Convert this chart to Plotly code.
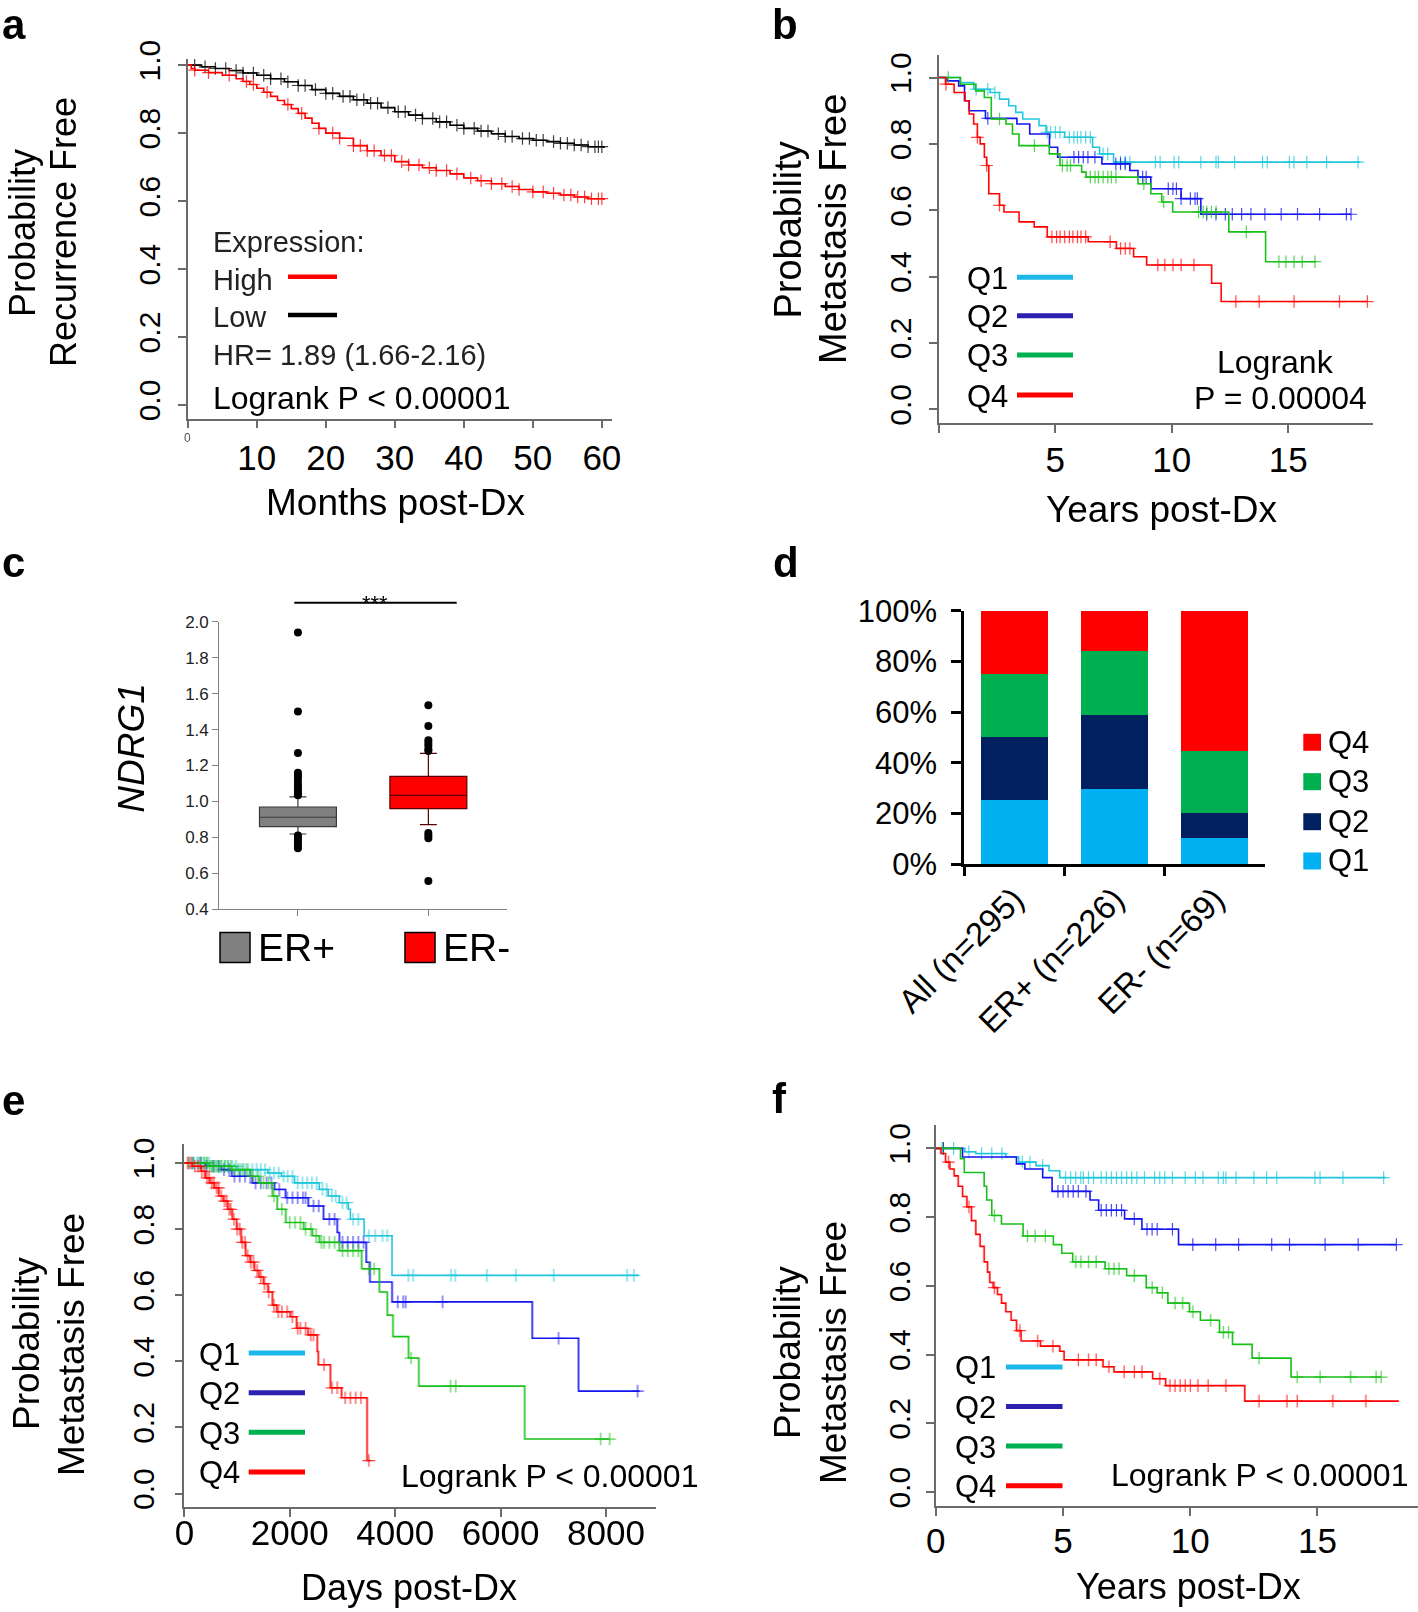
import numpy as np
import plotly.graph_objects as go

FONT = "Liberation Sans, Arial, sans-serif"
W, H = 1418, 1612

# ---------------- Panel a data (months) ----------------
a_low_t = [0, 2, 4, 6, 8, 10, 12, 14, 16, 18, 20, 22, 24, 26, 28, 30, 32, 34, 36, 38, 40,
           42, 44, 46, 48, 50, 52, 54, 56, 58, 60.3]
a_low_s = [1.0, 0.995, 0.99, 0.984, 0.977, 0.97, 0.96, 0.951, 0.94, 0.928, 0.917, 0.908, 0.898,
           0.888, 0.875, 0.863, 0.853, 0.843, 0.833, 0.823, 0.814, 0.806, 0.798, 0.79, 0.784,
           0.779, 0.775, 0.77, 0.765, 0.76, 0.756]
a_low_cens = [1, 2.5, 4, 5.5, 7, 8, 9.5, 11, 12, 13.5, 14.5, 16, 17, 18.5, 20, 21, 22.5, 23.5,
              24.5, 25.5, 26.5, 27.5, 29, 30.5, 31.5, 33, 34, 35.5, 36.5, 37.5, 39, 40, 41.5,
              42.5, 43.5, 45, 46, 47, 48.5, 49.5, 50.5, 51.5, 53, 54, 55, 56, 57, 58, 59, 59.5, 60]
a_high_t = [0, 0.5, 1, 3, 5, 7, 8, 9, 10, 11, 12, 13, 14, 15, 16, 17, 18, 19, 20, 22, 24, 26, 28,
            30, 32, 34, 36, 38, 40, 42, 44, 46, 48, 50, 52, 54, 56, 58, 60.3]
a_high_s = [1.0, 0.99, 0.985, 0.978, 0.97, 0.96, 0.952, 0.943, 0.932, 0.92, 0.908, 0.896, 0.884,
            0.872, 0.858, 0.844, 0.829, 0.814, 0.80, 0.785, 0.763, 0.748, 0.734, 0.716, 0.706,
            0.698, 0.69, 0.68, 0.668, 0.66, 0.651, 0.643, 0.634, 0.627, 0.623, 0.618, 0.612,
            0.607, 0.603]
a_high_cens = [1, 3, 6, 8.5, 9.5, 11.5, 14.5, 16.5, 19, 21, 22, 24, 25, 26, 27, 28.5, 29.5, 31,
               32, 33.5, 35, 36, 37.5, 39, 41, 42.5, 44, 45.5, 47, 48, 50, 51.5, 53, 54.5, 55.5,
               56.5, 57.5, 58.5, 59.5, 60]

# ---------------- Panel b data (years) ----------------
b_q1_t = [0, 0.9, 1.5, 2.2, 2.6, 3.0, 3.3, 3.6, 4.3, 4.6, 5.4, 6.6, 6.9, 7.5, 18.1]
b_q1_s = [1.0, 0.985, 0.965, 0.955, 0.935, 0.915, 0.895, 0.875, 0.855, 0.835, 0.82, 0.79, 0.77, 0.745, 0.745]
b_q1_c = [1.6, 2.1, 2.4, 4.65, 4.8, 5.0, 5.2, 5.6, 5.8, 5.95, 6.1, 6.3, 6.5, 7.05, 7.25, 7.8, 8.0,
          8.2, 9.3, 9.5, 10.1, 10.3, 11.25, 11.9, 12.0, 12.7, 13.9, 14.1, 15.05, 15.25, 15.8, 16.65, 18.0]
b_q2_t = [0, 0.35, 0.85, 1.1, 1.3, 2.0, 3.35, 3.9, 4.75, 5.1, 7.0, 8.2, 8.55, 9.1, 10.4, 11.25, 17.7]
b_q2_s = [1.0, 0.99, 0.975, 0.93, 0.90, 0.877, 0.86, 0.83, 0.79, 0.76, 0.74, 0.72, 0.70, 0.665, 0.635, 0.588, 0.588]
b_q2_c = [2.1, 5.8, 6.0, 6.2, 6.4, 6.7, 7.6, 7.8, 8.0, 8.75, 8.9, 9.85, 10.05, 10.2, 10.4, 10.8,
          11.0, 11.1, 11.5, 11.9, 12.3, 12.6, 13.0, 13.4, 14.0, 14.7, 15.4, 16.35, 17.5, 17.7]
b_q3_t = [0, 0.93, 1.58, 1.95, 2.25, 2.88, 3.16, 3.44, 4.74, 5.2, 6.13, 6.32, 8.55, 9.1, 9.57,
          10.04, 12.45, 14.03, 16.2]
b_q3_s = [1.0, 0.98, 0.96, 0.94, 0.875, 0.86, 0.83, 0.795, 0.77, 0.735, 0.715, 0.70, 0.68, 0.65,
          0.625, 0.595, 0.535, 0.445, 0.445]
b_q3_c = [0.4, 2.6, 4.1, 5.3, 5.5, 5.65, 6.5, 6.7, 6.85, 7.05, 7.25, 7.4, 7.6, 8.8, 9.65, 11.15,
          11.35, 11.5, 11.7, 11.9, 13.2, 14.6, 14.9, 15.25, 15.6, 16.15]
b_q4_t = [0, 0.28, 0.65, 1.12, 1.3, 1.49, 1.65, 1.77, 1.95, 2.05, 2.14, 2.6, 2.79, 3.44, 4.09,
          4.65, 6.41, 7.62, 8.36, 8.92, 11.71, 12.12, 18.4]
b_q4_s = [1.0, 0.98, 0.955, 0.93, 0.89, 0.86, 0.82, 0.80, 0.76, 0.735, 0.65, 0.615, 0.595, 0.565,
          0.55, 0.52, 0.505, 0.485, 0.46, 0.435, 0.38, 0.325, 0.325]
b_q4_c = [0.3, 1.65, 2.05, 2.6, 4.85, 5.05, 5.2, 5.4, 5.6, 5.75, 5.95, 6.1, 6.3, 7.35, 7.8, 8.0,
          8.2, 9.4, 9.7, 10.05, 10.4, 10.95, 12.75, 13.75, 15.25, 17.2, 18.4]

# ---------------- Panel c data ----------------
c_groups = [0, 1]
c_q1 = [0.86, 0.96]
c_median = [0.912, 1.034]
c_q3 = [0.969, 1.14]
c_lower = [0.819, 0.871]
c_upper = [1.025, 1.267]
c_out_erpos = [1.94, 1.50, 1.27, 1.16, 1.145, 1.13, 1.11, 1.09, 1.075, 1.06, 1.045, 1.035,
               0.81, 0.795, 0.78, 0.765, 0.75, 0.74]
c_out_erneg = [1.535, 1.42, 1.34, 1.325, 1.31, 1.29, 1.28, 0.825, 0.81, 0.795, 0.558]
c_yticks = [0.4, 0.6, 0.8, 1.0, 1.2, 1.4, 1.6, 1.8, 2.0]

# ---------------- Panel d data (%) ----------------
d_cats = ["All (n=295)", "ER+ (n=226)", "ER- (n=69)"]
d_q1 = [25.1, 29.6, 10.1]
d_q2 = [24.9, 29.2, 10.1]
d_q3 = [25.0, 25.2, 24.6]
d_q4 = [25.0, 16.0, 55.2]
d_yticks = [0, 20, 40, 60, 80, 100]

# ---------------- Panel e data (days) ----------------
e_q1_t = [0, 480, 990, 1585, 1840, 2090, 2560, 2730, 2940, 3110, 3150, 3410, 3940, 8620]
e_q1_s = [1.0, 0.99, 0.98, 0.97, 0.96, 0.94, 0.92, 0.90, 0.88, 0.86, 0.83, 0.78, 0.66, 0.66]
e_q1_c = [90, 170, 240, 310, 370, 420, 470, 530, 590, 640, 700, 770, 830, 910, 980, 1060, 1130,
          1210, 1290, 1370, 1450, 1530, 1620, 1700, 1790, 1880, 1960, 2050, 2150, 2240, 2330,
          2420, 2510, 2620, 2700, 2800, 2870, 3000, 3080, 3200, 3300, 3500, 3620, 3760, 3850,
          4250, 4340, 5060, 5140, 5740, 6290, 7010, 8400, 8530]
e_q2_t = [0, 400, 700, 900, 1290, 1710, 1920, 2350, 2640, 2900, 2940, 3450, 3520, 3940, 6600, 7480, 8640]
e_q2_s = [1.0, 0.99, 0.98, 0.96, 0.94, 0.92, 0.895, 0.87, 0.83, 0.79, 0.76, 0.70, 0.64, 0.58, 0.47, 0.31, 0.31]
e_q2_c = [150, 300, 420, 550, 650, 750, 850, 950, 1050, 1150, 1250, 1350, 1450, 1560, 1650, 1800,
          1950, 2050, 2150, 2250, 2300, 2450, 2550, 2750, 2850, 3000, 3100, 3200, 3300, 3400,
          4050, 4150, 4200, 4900, 7100, 8600]
e_q3_t = [0, 450, 900, 1250, 1415, 1670, 1760, 1924, 2263, 2430, 2560, 2940, 3365, 3700, 3850,
          3958, 4254, 4449, 6458, 8068]
e_q3_s = [1.0, 0.99, 0.98, 0.96, 0.94, 0.90, 0.86, 0.82, 0.80, 0.78, 0.76, 0.735, 0.68, 0.61,
          0.54, 0.475, 0.41, 0.325, 0.165, 0.165]
e_q3_c = [80, 180, 260, 330, 380, 430, 480, 520, 560, 610, 660, 700, 760, 820, 880, 950, 1020,
          1100, 1180, 1300, 1400, 1500, 1600, 1700, 1850, 2000, 2100, 2200, 2300, 2400, 2500,
          2600, 2650, 2750, 2850, 3000, 3100, 3200, 3300, 3500, 3600, 4300, 5050, 5150, 7900, 8070]
e_q4_t = [0, 150, 313, 398, 483, 568, 653, 737, 822, 907, 992, 1076, 1161, 1246, 1330, 1415,
          1500, 1585, 1670, 1754, 2008, 2130, 2347, 2520, 2540, 2771, 2983, 3466, 3534]
e_q4_s = [1.0, 0.99, 0.975, 0.955, 0.94, 0.925, 0.90, 0.885, 0.86, 0.83, 0.80, 0.76, 0.72, 0.70,
          0.675, 0.655, 0.635, 0.61, 0.57, 0.55, 0.535, 0.50, 0.48, 0.43, 0.39, 0.32, 0.29, 0.10, 0.10]
e_q4_c = [60, 120, 200, 260, 330, 380, 430, 470, 520, 560, 610, 650, 700, 760, 800, 850, 880,
          940, 1000, 1050, 1100, 1150, 1200, 1260, 1310, 1380, 1450, 1520, 1600, 1700, 1780,
          1850, 1950, 2050, 2150, 2200, 2300, 2400, 2450, 2650, 2800, 2900, 3050, 3150, 3250,
          3350, 3500]

# ---------------- Panel f data (years) ----------------
f_q1_t = [0, 1.14, 1.57, 2.75, 3.26, 3.94, 4.45, 4.87, 17.7]
f_q1_s = [1.0, 0.99, 0.985, 0.975, 0.96, 0.95, 0.935, 0.915, 0.915]
f_q1_c = [0.3, 0.7, 1.3, 1.8, 2.2, 2.6, 3.4, 3.7, 4.2, 5.1, 5.3, 5.5, 5.7, 5.8, 6.0, 6.2, 6.5,
          6.7, 6.9, 7.1, 7.3, 7.5, 7.7, 7.9, 8.2, 8.6, 8.8, 9.0, 9.3, 9.8, 10.2, 10.5, 11.1,
          11.3, 11.4, 11.8, 12.5, 13.0, 13.4, 14.9, 15.1, 16.0, 17.6]
f_q2_t = [0, 1.05, 3.17, 3.5, 4.2, 4.57, 6.06, 6.4, 7.42, 8.1, 9.54, 18.1]
f_q2_s = [1.0, 0.975, 0.955, 0.94, 0.915, 0.875, 0.85, 0.82, 0.795, 0.765, 0.72, 0.72]
f_q2_c = [0.3, 4.8, 5.0, 5.2, 5.4, 5.6, 5.9, 6.5, 6.7, 6.9, 7.1, 7.3, 7.8, 8.3, 8.5, 8.7, 9.3,
          10.1, 11.0, 11.9, 13.2, 13.9, 15.3, 16.6, 18.1]
f_q3_t = [0, 0.97, 1.12, 1.9, 2.0, 2.2, 2.58, 3.43, 4.62, 4.95, 5.38, 6.65, 7.5, 8.27, 8.7, 9.12,
          9.97, 10.4, 11.15, 11.66, 12.43, 13.96, 17.5]
f_q3_s = [1.0, 0.97, 0.93, 0.89, 0.85, 0.805, 0.78, 0.745, 0.72, 0.695, 0.67, 0.65, 0.63, 0.595,
          0.58, 0.55, 0.525, 0.50, 0.465, 0.43, 0.39, 0.335, 0.335]
f_q3_c = [0.25, 2.3, 3.6, 3.9, 4.3, 5.5, 5.7, 6.0, 6.3, 6.8, 7.0, 7.2, 7.8, 8.5, 8.9, 9.4, 9.7,
          10.1, 10.8, 11.3, 11.5, 12.7, 14.2, 15.1, 16.3, 17.3, 17.5]
f_q4_t = [0, 0.2, 0.38, 0.55, 0.72, 0.88, 1.05, 1.22, 1.4, 1.57, 1.74, 1.9, 2.03, 2.12, 2.25,
          2.42, 2.58, 2.75, 2.96, 3.17, 3.35, 4.11, 4.87, 5.04, 6.57, 7.0, 8.52, 9.03, 12.14, 18.2]
f_q4_s = [1.0, 0.985, 0.96, 0.94, 0.92, 0.89, 0.86, 0.83, 0.79, 0.75, 0.715, 0.67, 0.64, 0.61,
          0.595, 0.575, 0.55, 0.525, 0.50, 0.47, 0.44, 0.425, 0.41, 0.385, 0.365, 0.35, 0.33,
          0.31, 0.265, 0.265]
f_q4_c = [0.5, 1.3, 2.3, 3.3, 4.0, 4.6, 5.6, 6.0, 6.3, 6.8, 7.4, 7.8, 8.1, 8.8, 9.2, 9.4, 9.6,
          9.8, 10.0, 10.3, 10.7, 11.4, 12.7, 13.8, 14.2, 15.6, 16.9]

km_yticks = [0.0, 0.2, 0.4, 0.6, 0.8, 1.0]

# ---------------- colours ----------------
C_Q1, C_Q2, C_Q3, C_Q4 = "#22C8DC", "#1414F0", "#18C018", "#FF0000"
L_Q1, L_Q2, L_Q3, L_Q4 = "#1CB8E8", "#2C20B0", "#00B050", "#FF0000"
D_Q1, D_Q2, D_Q3, D_Q4 = "#00B0F0", "#002060", "#00B050", "#FF0000"
AX = "#6a6a6a"


def X(p):
    return p / W


def Y(p):
    return 1 - p / H


fig = go.Figure()


def km(t, s, cens, color, ax, width=1.6):
    xa, ya = ("x", "y") if ax == 1 else (f"x{ax}", f"y{ax}")
    fig.add_trace(go.Scatter(x=t, y=s, mode="lines", line=dict(shape="hv", color=color, width=width),
                             xaxis=xa, yaxis=ya, hoverinfo="skip"))
    tt = np.array(t)
    ss = np.array(s)
    idx = np.searchsorted(tt, np.array(cens), side="right") - 1
    fig.add_trace(go.Scatter(x=cens, y=ss[idx], mode="markers",
                             marker=dict(symbol="cross-thin-open", size=9, color=color,
                                         line=dict(color=color, width=1.2)),
                             xaxis=xa, yaxis=ya, hoverinfo="skip", opacity=0.75))


# panel a
km(a_low_t, a_low_s, a_low_cens, "#000000", 1)
km(a_high_t, a_high_s, a_high_cens, "#FF0000", 1)
# panel b
km(b_q1_t, b_q1_s, b_q1_c, C_Q1, 2)
km(b_q2_t, b_q2_s, b_q2_c, C_Q2, 2)
km(b_q3_t, b_q3_s, b_q3_c, C_Q3, 2)
km(b_q4_t, b_q4_s, b_q4_c, C_Q4, 2)

# panel c
fig.add_trace(go.Box(x=[c_groups[0]], q1=[c_q1[0]], median=[c_median[0]], q3=[c_q3[0]],
                     lowerfence=[c_lower[0]], upperfence=[c_upper[0]], width=0.59,
                     whiskerwidth=0.22, fillcolor="#808080", line=dict(color="#3a3a3a", width=1.2),
                     boxpoints=False, xaxis="x3", yaxis="y3", hoverinfo="skip"))
fig.add_trace(go.Box(x=[c_groups[1]], q1=[c_q1[1]], median=[c_median[1]], q3=[c_q3[1]],
                     lowerfence=[c_lower[1]], upperfence=[c_upper[1]], width=0.59,
                     whiskerwidth=0.22, fillcolor="#FF0000", line=dict(color="#5a0000", width=1.2),
                     boxpoints=False, xaxis="x3", yaxis="y3", hoverinfo="skip"))
fig.add_trace(go.Scatter(x=[c_groups[0]] * len(c_out_erpos), y=c_out_erpos, mode="markers",
                         marker=dict(color="black", size=8), xaxis="x3", yaxis="y3", hoverinfo="skip"))
fig.add_trace(go.Scatter(x=[c_groups[1]] * len(c_out_erneg), y=c_out_erneg, mode="markers",
                         marker=dict(color="black", size=8), xaxis="x3", yaxis="y3", hoverinfo="skip"))

# panel d
for vals, col in [(d_q1, D_Q1), (d_q2, D_Q2), (d_q3, D_Q3), (d_q4, D_Q4)]:
    fig.add_trace(go.Bar(x=d_cats, y=vals, marker=dict(color=col, line=dict(width=0)), width=0.67,
                         xaxis="x4", yaxis="y4", hoverinfo="skip"))

# panel e
km(e_q1_t, e_q1_s, e_q1_c, C_Q1, 5)
km(e_q2_t, e_q2_s, e_q2_c, C_Q2, 5)
km(e_q3_t, e_q3_s, e_q3_c, C_Q3, 5)
km(e_q4_t, e_q4_s, e_q4_c, C_Q4, 5)
# panel f
km(f_q1_t, f_q1_s, f_q1_c, C_Q1, 6)
km(f_q2_t, f_q2_s, f_q2_c, C_Q2, 6)
km(f_q3_t, f_q3_s, f_q3_c, C_Q3, 6)
km(f_q4_t, f_q4_s, f_q4_c, C_Q4, 6)

layout = dict(template="none", width=W, height=H, margin=dict(l=0, r=0, t=0, b=0, pad=0),
              paper_bgcolor="white", plot_bgcolor="white", showlegend=False, barmode="stack",
              boxmode="overlay", font=dict(family=FONT, color="black"))


def km_axes(n, xpx, ypx, xrange, yrange, xtickvals, xticktext, xstand, ystand):
    xs = "xaxis" if n == 1 else f"xaxis{n}"
    ys = "yaxis" if n == 1 else f"yaxis{n}"
    layout[xs] = dict(domain=[X(xpx[0]), X(xpx[1])], range=xrange, anchor="y" if n == 1 else f"y{n}",
                      showline=True, linecolor=AX, linewidth=1.5, ticks="outside", ticklen=8,
                      tickwidth=1.5, tickcolor=AX, tickvals=xtickvals, ticktext=xticktext,
                      tickfont=dict(size=35, family=FONT, color="black"), showgrid=False,
                      zeroline=False, fixedrange=True, automargin=False, ticklabelstandoff=xstand)
    layout[ys] = dict(domain=[Y(ypx[1]), Y(ypx[0])], range=yrange, anchor="x" if n == 1 else f"x{n}",
                      showline=True, linecolor=AX, linewidth=1.5, ticks="outside", ticklen=8,
                      tickwidth=1.5, tickcolor=AX, tickvals=km_yticks,
                      ticktext=[f"{v:.1f}" for v in km_yticks], tickangle=-90,
                      tickfont=dict(size=30, family=FONT, color="black"), showgrid=False,
                      zeroline=False, fixedrange=True, ticklabelstandoff=ystand, automargin=False)


km_axes(1, (187.8, 612.2), (59, 418.5), [0, 61.5], [-0.0397, 1.018],
        [0, 10, 20, 30, 40, 50, 60], ["", "10", "20", "30", "40", "50", "60"], 0, 6)
km_axes(2, (938.9, 1373.4), (55, 423.3), [0, 18.66], [-0.042, 1.068],
        [0, 5, 10, 15], ["", "5", "10", "15"], -3, 6)
km_axes(5, (184.4, 656.3), (1144, 1507.3), [0, 8955], [-0.0414, 1.0575],
        [0, 2000, 4000, 6000, 8000], ["0", "2000", "4000", "6000", "8000"], -14, 9)
km_axes(6, (935.8, 1418), (1125, 1506), [0, 18.95], [-0.040, 1.068],
        [0, 5, 10, 15], ["0", "5", "10", "15"], -5, 4)

# panel c axes
layout["xaxis3"] = dict(domain=[X(219.3), X(507)], range=[-0.603, 1.603], anchor="y3",
                        showline=True, linecolor="#808080", linewidth=1.2, ticks="outside",
                        ticklen=6, tickcolor="#808080", tickvals=c_groups, ticktext=["", ""],
                        showgrid=False, zeroline=False, fixedrange=True, automargin=False)
layout["yaxis3"] = dict(domain=[Y(909.3), Y(621.7)], range=[0.4, 2.0], anchor="x3",
                        showline=True, linecolor="#808080", linewidth=1.2, ticks="outside",
                        ticklen=6, tickcolor="#808080", tickvals=c_yticks,
                        ticktext=[f"{v:.1f}" for v in c_yticks],
                        tickfont=dict(size=17, family=FONT, color="#222222"),
                        showgrid=False, zeroline=False, fixedrange=True, automargin=False)

# panel d axes
layout["xaxis4"] = dict(domain=[X(964), X(1265)], range=[-0.5, 2.5], anchor="y4", type="category",
                        showline=True, linecolor="black", linewidth=2.5, ticks="outside",
                        ticklen=9, tickwidth=2.5, tickcolor="black", tickson="boundaries",
                        tickangle=-45, tickfont=dict(size=33, family=FONT, color="black"),
                        showgrid=False, zeroline=False, fixedrange=True, automargin=False)
layout["yaxis4"] = dict(domain=[Y(864), Y(610.7)], range=[0, 100], anchor="x4",
                        showline=True, linecolor="black", linewidth=2.5, ticks="outside",
                        ticklen=10, tickwidth=2.5, tickcolor="black", tickvals=d_yticks,
                        ticktext=[f"{v}%" for v in d_yticks],
                        tickfont=dict(size=31, family=FONT, color="black"),
                        showgrid=False, zeroline=False, fixedrange=True, ticklabelstandoff=8,
                        automargin=False)

ann = []
shp = []


def T(text, x, y, size, xanchor="center", angle=0, color="black"):
    ann.append(dict(xref="paper", yref="paper", x=X(x), y=Y(y), text=text, showarrow=False,
                    xanchor=xanchor, yanchor="middle", textangle=angle, borderpad=0,
                    font=dict(family=FONT, size=size, color=color)))


def L(x0, x1, y, color, width):
    shp.append(dict(type="line", xref="paper", yref="paper", x0=X(x0), x1=X(x1), y0=Y(y), y1=Y(y),
                    line=dict(color=color, width=width)))


def R(x0, y0, x1, y1, fill, lc=None, lw=0):
    shp.append(dict(type="rect", xref="paper", yref="paper", x0=X(x0), x1=X(x1), y0=Y(y1), y1=Y(y0),
                    fillcolor=fill, line=dict(color=lc if lc else fill, width=lw)))


# panel letters
for lt, x, y in [("a", 14, 24), ("b", 785, 25), ("c", 13, 562), ("d", 786, 562), ("e", 13, 1100), ("f", 779, 1098)]:
    T(f"<b>{lt}</b>", x, y, 42)

# panel a texts
T("Probability", 22, 233, 36, angle=-90)
T("Recurrence Free", 63, 232, 36, angle=-90)
T("Months post-Dx", 396, 502, 37)
T("0", 188, 438, 12, color="#555555")
T("Expression:", 212, 241.7, 29, xanchor="left", color="#222222")
T("High", 212, 280, 29, xanchor="left", color="#222222")
T("Low", 212, 316.7, 29, xanchor="left", color="#222222")
T("HR= 1.89 (1.66-2.16)", 212, 355, 29, xanchor="left", color="#222222")
T("Logrank P &lt; 0.00001", 212, 398, 32, xanchor="left")
L(288, 337, 276.7, "#FF0000", 4.5)
L(288, 337, 315, "#000000", 4.5)

# panel b texts
T("Probability", 787.6, 230, 38, angle=-90)
T("Metastasis Free", 833, 229, 38, angle=-90)
T("Years post-Dx", 1162, 509, 37)
for q, y, c in [("Q1", 278.3, L_Q1), ("Q2", 316.7, L_Q2), ("Q3", 356, L_Q3), ("Q4", 396, L_Q4)]:
    T(q, 966, y, 31, xanchor="left")
    L(1017, 1073, y - 1, c, 5)
T("Logrank", 1275, 361.7, 32)
T("P = 0.00004", 1280, 398, 32)

# panel c texts
T("<i>NDRG1</i>", 130.7, 748, 37, angle=-90)
L(294.3, 456.7, 602.7, "black", 2)
T("***", 375, 603, 22)
R(220, 932.6, 250, 962.5, "#808080", "black", 1.5)
R(405, 932.6, 435, 962.5, "#FF0000", "black", 1.5)
T("ER+", 257, 947.5, 39, xanchor="left")
T("ER-", 442, 947.5, 39, xanchor="left")

# panel d legend
for q, y, c in [("Q4", 742.3, D_Q4), ("Q3", 781.7, D_Q3), ("Q2", 821.7, D_Q2), ("Q1", 861, D_Q1)]:
    R(1303.3, y - 8.5, 1321, y + 8.5, c)
    T(q, 1327, y, 31, xanchor="left")

# panel e texts
T("Probability", 26, 1344, 37, angle=-90)
T("Metastasis Free", 71.4, 1344.6, 37, angle=-90)
T("Days post-Dx", 409, 1587, 36)
for q, y, c in [("Q1", 1354, L_Q1), ("Q2", 1393.7, L_Q2), ("Q3", 1433.3, L_Q3), ("Q4", 1472.9, L_Q4)]:
    T(q, 197.8, y, 31, xanchor="left")
    L(248.7, 305, y - 1, c, 5)
T("Logrank P &lt; 0.00001", 399.6, 1476.3, 32, xanchor="left")

# panel f texts
T("Probability", 787.6, 1352.4, 37, angle=-90)
T("Metastasis Free", 833, 1353, 37, angle=-90)
T("Years post-Dx", 1188, 1586, 36)
for q, y, c in [("Q1", 1367.9, L_Q1), ("Q2", 1407.5, L_Q2), ("Q3", 1447, L_Q3), ("Q4", 1486.7, L_Q4)]:
    T(q, 954, y, 31, xanchor="left")
    L(1006, 1062.5, y - 1, c, 5)
T("Logrank P &lt; 0.00001", 1110, 1474.6, 32, xanchor="left")

layout["annotations"] = ann
layout["shapes"] = shp
fig.update_layout(**layout)
fig.write_html("out.html", config={"displayModeBar": False},
               post_script="document.body.style.margin='0px';document.body.style.overflow='hidden';")
